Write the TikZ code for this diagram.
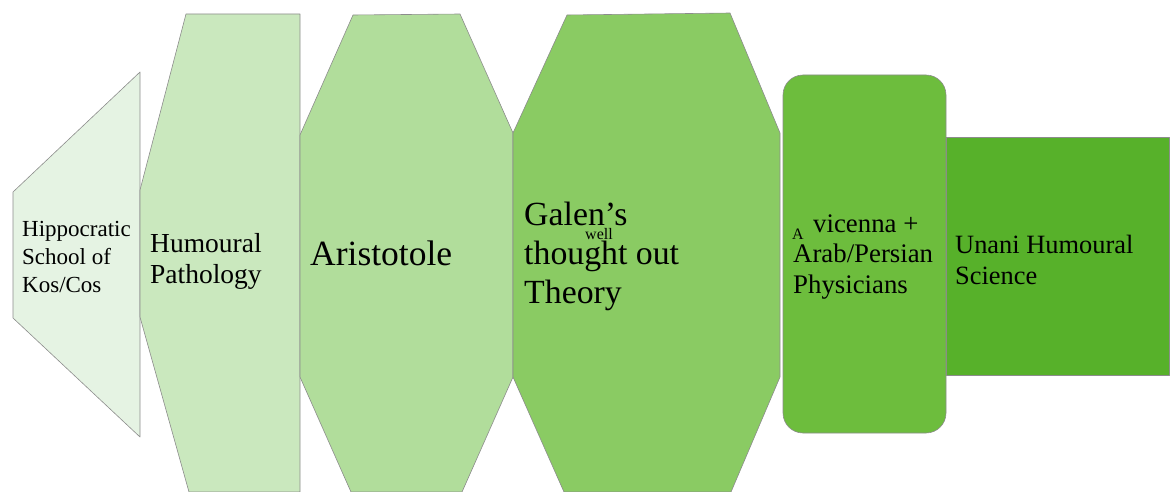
\documentclass[tikz,border=0pt]{standalone}
\usepackage{fontspec}
\setmainfont{Liberation Serif}
\definecolor{gA}{HTML}{E5F3E3}
\definecolor{gB}{HTML}{CAE8BE}
\definecolor{gC}{HTML}{B1DD9B}
\definecolor{gD}{HTML}{8ACB63}
\definecolor{gE}{HTML}{6DBD3D}
\definecolor{gF}{HTML}{57B12A}
\definecolor{edge}{HTML}{8C8C8C}
\begin{document}
\begin{tikzpicture}[x=1pt,y=-1pt,
  panel/.style={draw=edge,line width=0.6pt,line join=round},
  label/.style={inner sep=0pt,anchor=base west,align=left,text=black}]
\useasboundingbox (0,0) rectangle (1172,492);
% stage shapes, left to right
\path[panel,fill=gA] (140,72) -- (140,437) -- (13,318) -- (13,192) -- cycle;
\path[panel,fill=gB] (186,14) -- (300,14) -- (300,492) -- (189,492) -- (140,317) -- (140,190) -- cycle;
\path[panel,fill=gC] (353,15) -- (460,14) -- (513,133) -- (513,377) -- (462,492) -- (351,492) -- (300,377) -- (300,135) -- cycle;
\path[panel,fill=gD] (567,15) -- (730,13) -- (780,133) -- (780,377) -- (731,492) -- (564,492) -- (513,377) -- (513,133) -- cycle;
\path[panel,fill=gF] (946,137) rectangle (1169,375);
\path[panel,fill=gE,rounded corners=20pt] (783,75) rectangle (946,433);
% labels (a multi-line label sits on the baseline of its last line)
\node[label,font=\fontsize{23}{28}\selectfont] (hip) at (22,292) {Hippocratic\\School of\\Kos/Cos};
\node[label,font=\fontsize{27.5}{31}\selectfont] (hum) at (150,283) {Humoural\\Pathology};
\node[label,font=\fontsize{35.5}{40}\selectfont] (ari) at (310,265) {Aristotole};
\node[label,font=\fontsize{33.8}{39}\selectfont] (gal) at (524,303) {Galen’s\\thought out\\Theory};
\node[label,font=\fontsize{16}{19}\selectfont] (well) at (585,239) {well};
\node[label,font=\fontsize{16}{19}\selectfont] (ava) at (792,239) {A};
\node[label,font=\fontsize{26.8}{30.5}\selectfont] (avi) at (813,232) {vicenna +};
\node[label,font=\fontsize{26.8}{30.5}\selectfont] (arab) at (793,293) {Arab/Persian\\Physicians};
\node[label,font=\fontsize{26.4}{31}\selectfont] (una) at (955,284) {Unani Humoural\\Science};
\end{tikzpicture}
\end{document}
